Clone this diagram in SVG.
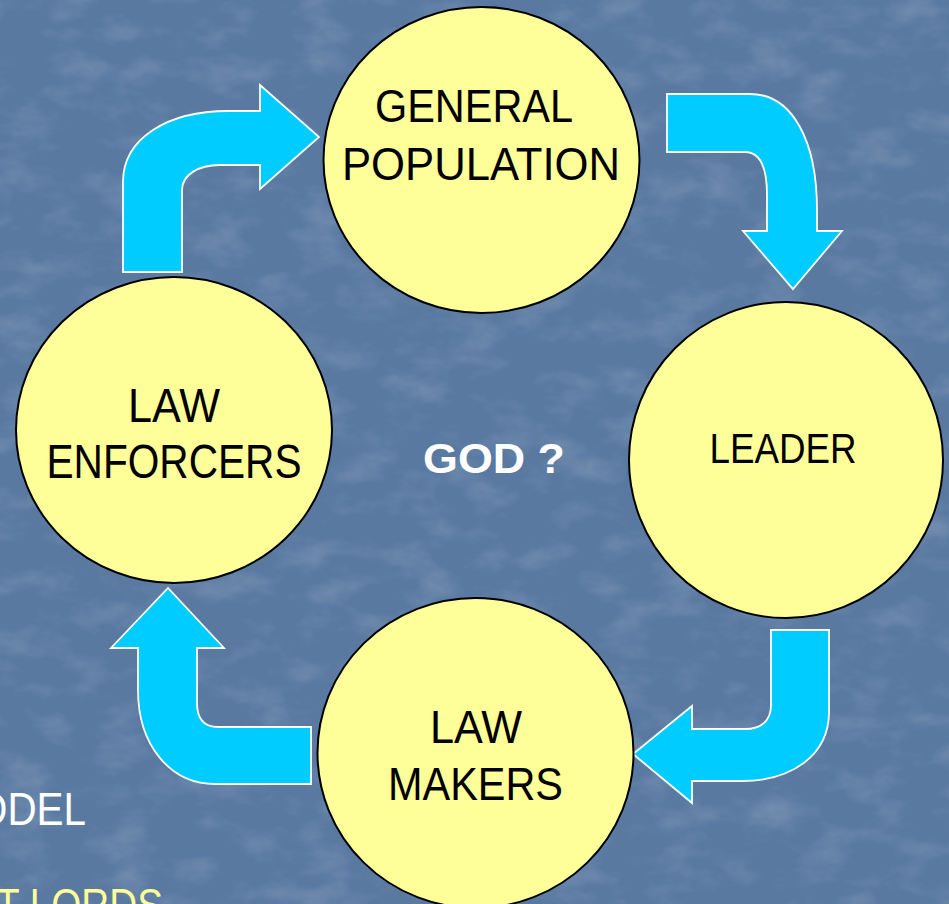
<svg xmlns="http://www.w3.org/2000/svg" width="949" height="904" viewBox="0 0 949 904">
<defs>
<style>
.bg{fill:#5979a1}
.node{fill:#ffff99;stroke:#000;stroke-width:2}
.lbl{font-family:"Liberation Sans",Arial,sans-serif;fill:#000;text-anchor:middle}
.arrow{fill:#00ccff;stroke:#fff;stroke-width:1.8;stroke-linejoin:miter}
.side{font-family:"Liberation Sans",Arial,sans-serif;font-size:46px}
</style>
<filter id="tex" x="0" y="0" width="100%" height="100%">
<feTurbulence type="fractalNoise" baseFrequency="0.02 0.035" numOctaves="4" seed="11"/>
<feColorMatrix type="matrix" values="0 0 0 0 1  0 0 0 0 1  0 0 0 0 1  0 0 0 1.0 -0.45"/>
</filter>
</defs>
<rect class="bg" x="0" y="0" width="949" height="904"/>
<rect x="0" y="0" width="949" height="904" filter="url(#tex)" opacity="0.3"/>

<g id="connectors">
<path id="arrow-enforcers-population" class="arrow" d="M123,272 L123,182 C123,138 168,111 228,111 L260,111 L260,85 L319,137 L260,189 L260,165 L220,165 C198,165 182,175 182,190 L182,272 Z"/>
<path id="arrow-population-leader" class="arrow" d="M667,94 L750,94 C792,94 817,140 817,210 L817,231 L842,231 L793,289 L743,231 L767,231 L767,195 C767,168 760,152 745,152 L667,152 Z"/>
<path id="arrow-leader-makers" class="arrow" d="M829,630 L829,712 C829,755 792,781 742,781 L692,781 L692,803 L633,754 L692,706 L692,729 L745,729 C762,729 771,720 771,705 L771,630 Z"/>
<path id="arrow-makers-enforcers" class="arrow" d="M311,727 L218,727 C205,727 197,720 197,703 L197,648 L224,648 L168,588 L111,648 L138,648 L138,690 C138,745 170,784 215,784 L311,784 Z"/>
</g>

<g id="node-general-population">
<ellipse class="node" cx="481.5" cy="160" rx="158" ry="153"/>
<text class="lbl" x="474" y="122" font-size="47" textLength="198" lengthAdjust="spacingAndGlyphs">GENERAL</text>
<text class="lbl" x="481" y="180" font-size="47" textLength="278" lengthAdjust="spacingAndGlyphs">POPULATION</text>
</g>

<g id="node-leader">
<ellipse class="node" cx="786" cy="460" rx="157" ry="158"/>
<text class="lbl" x="783" y="463" font-size="42" textLength="147" lengthAdjust="spacingAndGlyphs">LEADER</text>
</g>

<g id="node-law-enforcers">
<ellipse class="node" cx="174" cy="430" rx="158" ry="153"/>
<text class="lbl" x="174" y="422" font-size="48" textLength="92" lengthAdjust="spacingAndGlyphs">LAW</text>
<text class="lbl" x="174" y="478" font-size="48" textLength="255" lengthAdjust="spacingAndGlyphs">ENFORCERS</text>
</g>

<g id="node-law-makers">
<ellipse class="node" cx="475.5" cy="753" rx="158" ry="155"/>
<text class="lbl" x="476" y="743" font-size="46" textLength="92" lengthAdjust="spacingAndGlyphs">LAW</text>
<text class="lbl" x="475.5" y="800" font-size="46" textLength="175" lengthAdjust="spacingAndGlyphs">MAKERS</text>
</g>

<g id="center-label">
<text x="494" y="473" font-family="Liberation Sans,Arial,sans-serif" font-weight="bold" font-size="42" fill="#fff" text-anchor="middle" textLength="142" lengthAdjust="spacingAndGlyphs">GOD ?</text>
</g>

<g id="side-text">
<text class="side" x="86" y="825" fill="#fff" text-anchor="end" textLength="110" lengthAdjust="spacingAndGlyphs">ODEL</text>
<text class="side" x="163" y="921" fill="#ffff99" text-anchor="end" textLength="167" lengthAdjust="spacingAndGlyphs">T LORDS</text>
</g>
</svg>
